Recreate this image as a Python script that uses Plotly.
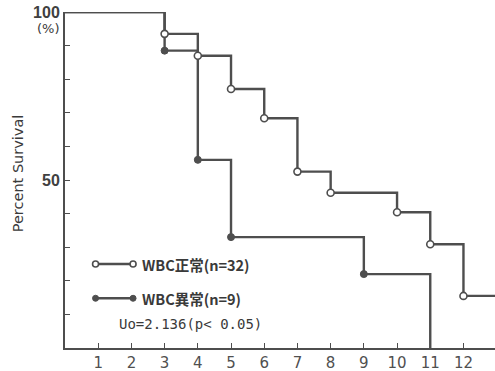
import plotly.graph_objects as go

# Kaplan-Meier survival, WBC normal vs. abnormal (months on x, % surviving on y)
normal_t = [0, 3, 4, 5, 6, 7, 8, 10, 11, 12, 12.95]
normal_s = [100, 93.5, 87.0, 77.1, 68.4, 52.5, 46.2, 40.4, 30.9, 15.5, 15.5]
abnormal_t = [0, 3, 4, 5, 9, 11]
abnormal_s = [100, 88.5, 56.0, 33.0, 22.0, 0]

normal_mark_t = normal_t[1:-1]
normal_mark_s = normal_s[1:-1]
abnormal_mark_t = abnormal_t[1:-1]
abnormal_mark_s = abnormal_s[1:-1]

x_ticks = list(range(1, 13))
y_ticks = list(range(0, 101, 10))
y_ticktext = ["" if v not in (50, 100) else f"<b>{v}</b>" for v in y_ticks]

legend_labels = ["WBC正常(n=32)", "WBC異常(n=9)"]
legend_y = [25.0, 14.8]
legend_x = [0.92, 2.05]
stat_text = "Uo=2.136(p< 0.05)"

LINE = "#4e4e4e"
TEXT = "#3a3a3a"
FONT = "DejaVu Sans, Arial, sans-serif"
JP = "Noto Sans CJK JP, sans-serif"

fig = go.Figure()

fig.add_trace(go.Scatter(x=normal_t, y=normal_s, mode="lines", line_shape="hv",
                         line=dict(color=LINE, width=2.4), cliponaxis=False,
                         hoverinfo="skip"))
fig.add_trace(go.Scatter(x=abnormal_t, y=abnormal_s, mode="lines", line_shape="hv",
                         line=dict(color=LINE, width=2.4), cliponaxis=False,
                         hoverinfo="skip"))
fig.add_trace(go.Scatter(x=abnormal_mark_t, y=abnormal_mark_s, mode="markers",
                         marker=dict(size=7, color=LINE, line=dict(color=LINE, width=1)),
                         cliponaxis=False))
fig.add_trace(go.Scatter(x=normal_mark_t, y=normal_mark_s, mode="markers",
                         marker=dict(size=7, color="white", line=dict(color=LINE, width=1.6)),
                         cliponaxis=False))

# legend glyphs: a line with a circle at each end
fig.add_trace(go.Scatter(x=legend_x, y=[legend_y[0]] * 2, mode="lines+markers",
                         line=dict(color=LINE, width=2.4),
                         marker=dict(size=6, color="white", line=dict(color=LINE, width=1.6))))
fig.add_trace(go.Scatter(x=legend_x, y=[legend_y[1]] * 2, mode="lines+markers",
                         line=dict(color=LINE, width=2.4),
                         marker=dict(size=6, color=LINE, line=dict(color=LINE, width=1))))

for label, yv in zip(legend_labels, legend_y):
    fig.add_annotation(x=2.25, y=yv, text=f"<b>{label}</b>", showarrow=False,
                       xanchor="left", yanchor="middle",
                       font=dict(family=JP, size=14.5, color=TEXT))
fig.add_annotation(x=1.58, y=7.2, text=stat_text, showarrow=False,
                   xanchor="left", yanchor="middle",
                   font=dict(family="DejaVu Sans Mono, monospace", size=14, color=TEXT))

fig.add_annotation(xref="paper", yref="y", x=0, y=95.2, text="(%)", showarrow=False,
                   xanchor="right", yanchor="middle", xshift=-3,
                   font=dict(family=FONT, size=13, color=TEXT))
fig.add_annotation(xref="paper", yref="paper", x=0, y=0.52, text="Percent Survival",
                   showarrow=False, textangle=-90, xshift=-57,
                   font=dict(family=FONT, size=14.5, color=TEXT))

fig.update_layout(
    width=495, height=371,
    margin=dict(l=65, r=0, t=12, b=23),
    paper_bgcolor="white", plot_bgcolor="white",
    showlegend=False,
    font=dict(family=FONT, color=TEXT),
)
fig.update_xaxes(range=[0, 12.95], tickvals=x_ticks, ticks="inside", ticklen=5,
                 tickcolor=LINE, showline=True, linecolor=LINE, linewidth=2,
                 showgrid=False, zeroline=False,
                 tickfont=dict(family=FONT, size=15, color="#505050"))
fig.update_yaxes(range=[0, 100], tickvals=y_ticks, ticktext=y_ticktext,
                 ticks="inside", ticklen=5, tickcolor=LINE,
                 showline=True, linecolor=LINE, linewidth=2,
                 showgrid=False, zeroline=False,
                 tickfont=dict(family="Liberation Sans Narrow, Liberation Sans, Arial, sans-serif",
                               size=16, color="#404040"))

fig.write_html("out.html")
